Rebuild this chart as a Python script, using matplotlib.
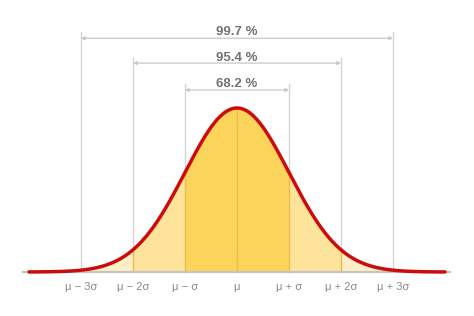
import numpy as np
import matplotlib as mpl
import matplotlib.pyplot as plt

mpl.rcParams.update({"font.family": ["Liberation Sans", "DejaVu Sans"]})

# sigma positions and their labels
sigma_pos = [-3, -2, -1, 0, 1, 2, 3]
sigma_labels = ["μ − 3σ", "μ − 2σ", "μ − σ", "μ", "μ + σ", "μ + 2σ", "μ + 3σ"]
# coverage brackets: half width in sigma, label
bracket_k = [1, 2, 3]
bracket_pct = ["68.2 %", "95.4 %", "99.7 %"]

RED = "#cc0c0c"
GRID = "#d4d4d4"
TXT = "#6f7276"
FILL = {1: "#fdd45a", 2: "#fee39a", 3: "#feefc7"}
GOLD = "#e9bd4c"


def pdf(z):
    return np.exp(-0.5 * np.asarray(z) ** 2) / np.sqrt(2 * np.pi)


fig = plt.figure(figsize=(4.74, 3.16), dpi=100)
ax = fig.add_axes([0, 0, 1, 1])
ax.set_xlim(-237 / 52, 237 / 52)
ax.set_ylim(-44 / 411.1, 272 / 411.1)
ax.axis("off")

z = np.linspace(-4.0, 4.0, 801)
y = pdf(z)

# bracket levels (line y, vertical-line top, text baseline) in data units
line_y = {1: 0.4427, 2: 0.5082, 3: 0.5686}
vtop = {1: 0.457, 2: 0.520, 3: 0.584}
text_y = {1: 0.450, 2: 0.5133, 3: 0.5765}

# gray verticals at ±kσ
for k in bracket_k:
    for s in (-k, k):
        ax.plot([s, s], [0, vtop[k]], color=GRID, lw=1.0, zorder=1)

# fills, outer to inner
ax.fill_between(z, 0, y, where=np.abs(z) <= 3.0001, color=FILL[3], lw=0, zorder=2)
ax.fill_between(z, 0, y, where=np.abs(z) <= 2.0001, color=FILL[2], lw=0, zorder=2)
ax.fill_between(z, 0, y, where=np.abs(z) <= 1.0001, color=FILL[1], lw=0, zorder=2)

# golden lines under curve
for s in sigma_pos:
    if abs(s) < 3:
        ax.plot([s, s], [0, pdf(s)], color=GOLD, lw=1.0, zorder=3)

# baseline
ax.plot([-4.12, 4.1], [0, 0], color="#c4c4c4", lw=1.6, zorder=3)

# the curve
ax.plot(z, y, color=RED, lw=2.5, zorder=4, solid_capstyle="round")

# brackets with percentages
for k, pct in zip(bracket_k, bracket_pct):
    ax.annotate("", xy=(-k, line_y[k]), xytext=(k, line_y[k]),
                arrowprops=dict(arrowstyle="<|-|>", color="#c8c8c8", lw=0.9,
                                mutation_scale=5, shrinkA=0, shrinkB=0))
    ax.text(0, text_y[k], pct, ha="center", va="baseline", color=TXT,
            fontsize=9.5, fontweight="bold")

# axis labels
for s, lab in zip(sigma_pos, sigma_labels):
    ax.text(s, -0.0357, lab, ha="center", va="center", color="#85888c", fontsize=8)

fig.savefig("out.png", dpi=100)
